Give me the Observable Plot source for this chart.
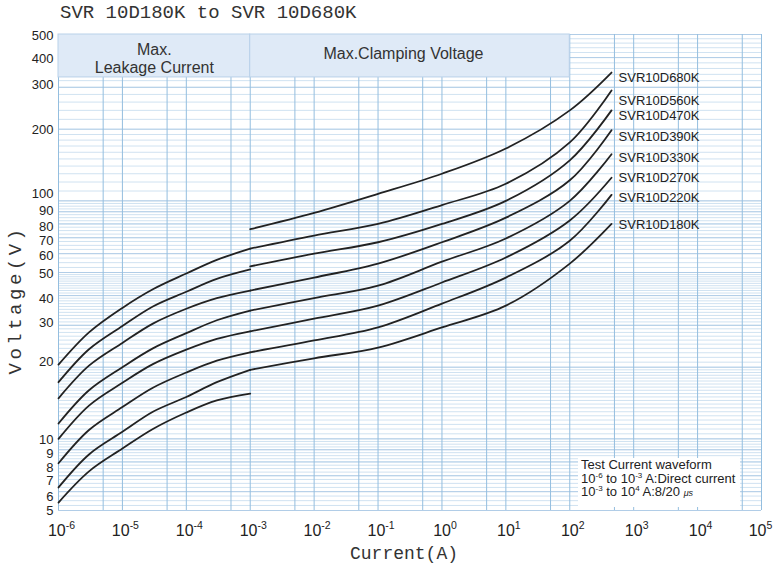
<!DOCTYPE html>
<html>
<head>
<meta charset="utf-8">
<script src="https://cdn.jsdelivr.net/npm/d3@7"></script>
<script src="https://cdn.jsdelivr.net/npm/@observablehq/plot@0.6"></script>
<style>
  body { margin: 0; background: #fff; }
  #wrap { position: relative; width: 773px; height: 570px; overflow: hidden; }
  .mono { position: absolute; font-family: "Liberation Mono", "DejaVu Sans Mono", monospace; color: #333; white-space: nowrap; }
  #title { left: 60px; top: 2px; font-size: 19px; line-height: 22px; }
  #xlabel { left: 350px; top: 544px; font-size: 18px; line-height: 20px; }
  #ylabel { left: 16px; top: 300px; font-size: 19px; letter-spacing: 3.5px; transform: translate(-50%, -50%) rotate(-90deg); }
  #note { position: absolute; left: 578px; top: 458px; width: 162px; height: 49px; background: #fff;
          font-family: "Liberation Sans", Arial, sans-serif; font-size: 13px; line-height: 13.5px; color: #222; padding-left: 3px; box-sizing: border-box; white-space: nowrap; }
  #note sup { font-size: 8px; vertical-align: 5px; line-height: 0; }
  #note small { font-size: 9px; font-style: italic; }
</style>
</head>
<body>
<div id="wrap">
  <div id="chart"></div>
  <div id="title" class="mono">SVR 10D180K to SVR 10D680K</div>
  <div id="ylabel" class="mono">Voltage(V)</div>
  <div id="xlabel" class="mono">Current(A)</div>
  <div id="note">Test Current waveform<br>10<sup>-6</sup> to 10<sup>-3</sup> A:Direct current<br>10<sup>-3</sup> to 10<sup>4</sup> A:8/20 <small>μs</small></div>
</div>
<script>
// ---- data ----
const models = ["SVR10D680K","SVR10D560K","SVR10D470K","SVR10D390K","SVR10D330K","SVR10D270K","SVR10D220K","SVR10D180K"];

// Max. leakage current region (1e-6 .. 1e-3 A)
const leakageCurrent = [1e-6, 3e-6, 1e-5, 3e-5, 1e-4, 3e-4, 1e-3];
const leakage680 = [20.5, 28, 35.5, 42.5, 49.5, 56.5, 63];
const leakage560 = [17.3, 23.8, 29.8, 36, 41.5, 47, 51.5];
const leakage470 = [14.8, 20.3, 25.3, 30.5, 35.2, 39, 42];
const leakage390 = [11.6, 16, 20, 24, 27.8, 31.5, 34.6];
const leakage330 = [10, 13.8, 17.2, 20.6, 23.7, 26.3, 28.3];
const leakage270 = [7.9, 10.9, 13.6, 16.4, 19, 21.3, 23.1];
const leakage220 = [6.25, 8.6, 10.7, 13, 15, 17.3, 19.5];
const leakage180 = [5.4, 7.3, 9.1, 11, 12.9, 14.5, 15.5];

// Max. clamping voltage region (1e-3 .. ~450 A)
const clampCurrent = [1e-3, 1e-2, 1e-1, 1, 10, 100, 450];
const clamp680 = [76, 89, 107, 130, 166, 240, 346];
const clamp560 = [63, 71.5, 80, 96, 118, 176, 291];
const clamp470 = [53, 60, 67, 80, 100, 148, 240];
const clamp390 = [42, 47.6, 54.5, 67, 85, 122, 198];
const clamp330 = [34.6, 39, 44, 55.5, 69.5, 100, 157];
const clamp270 = [28.3, 32, 36.3, 45.4, 57.8, 82.7, 125];
const clamp220 = [23.1, 25.9, 29.4, 37, 47.6, 68, 106];
const clamp180 = [19.5, 21.8, 24.2, 29.4, 36.3, 54.5, 80];

// curve labels
const labelCurrent = 580;
const labelVoltage = [330, 264, 228, 185, 152, 125, 103, 79];

// tick labels
const xTicks = [1e-6, 1e-5, 1e-4, 1e-3, 1e-2, 1e-1, 1, 10, 100, 1e3, 1e4, 1e5];
const xTickExponents = ["-6", "-5", "-4", "-3", "-2", "-1", "0", "1", "2", "3", "4", "5"];
const yTicks = [5, 6, 7, 8, 9, 10, 20, 30, 40, 50, 60, 70, 80, 90, 100, 200, 300, 400, 500];

// header bands
const bandNames = ["Max.\nLeakage Current", "Max.Clamping Voltage"];
const bandStart = [1e-6, 1e-3];
const bandEnd = [1e-3, 1e2];
const bandLow = 330, bandHigh = 500;
const bandTextCurrent = [3.16e-5, 0.25];
const bandTextVoltage = [396, 418];

// ---- style: label nudges (px) as printed in the original sheet ----
const yLabelNudge = {5: 0, 6: 5, 7: 5, 8: 6, 9: 4, 10: 1, 20: -5, 30: -2, 40: 3, 50: 1, 60: 2, 70: 3, 80: 3, 90: -1, 100: -7, 200: 1, 300: -2, 400: 1, 500: 1};

// ---- build tables ----
const leakSeries = [leakage680, leakage560, leakage470, leakage390, leakage330, leakage270, leakage220, leakage180];
const clampSeries = [clamp680, clamp560, clamp470, clamp390, clamp330, clamp270, clamp220, clamp180];
const rows = [];
models.forEach((m, i) => {
  leakageCurrent.forEach((c, j) => rows.push({key: m + "-leak", current: c, voltage: leakSeries[i][j]}));
  clampCurrent.forEach((c, j) => rows.push({key: m + "-clamp", current: c, voltage: clampSeries[i][j]}));
});
const labels = models.map((m, i) => ({text: m, current: labelCurrent, voltage: labelVoltage[i]}));
const bands = bandNames.map((t, i) => ({text: t, x1: bandStart[i], x2: bandEnd[i], y1: bandLow, y2: bandHigh, tx: bandTextCurrent[i], ty: bandTextVoltage[i]}));
const xLabelRows = xTicks.map((v, i) => ({value: v, text: "10^" + xTickExponents[i], shift: i === xTicks.length - 1 ? -1 : 3}));

// grid lines (log paper)
const hGrid = [].concat(
  d3.range(5, 10, 0.25), d3.range(10, 20, 0.5), d3.range(20, 50, 1),
  d3.range(50, 100, 2.5), d3.range(100, 200, 10), d3.range(200, 501, 20)
);
const vGrid = [];
for (let k = -6; k <= 4; k++) { vGrid.push(Math.pow(10, k)); vGrid.push(5 * Math.pow(10, k)); }
vGrid.push(1e5);

const chart = Plot.plot({
  width: 773, height: 570,
  marginLeft: 58, marginRight: 12, marginTop: 34, marginBottom: 60,
  style: {fontFamily: "'Liberation Sans', Arial, sans-serif", background: "white", color: "#222"},
  x: {type: "log", domain: [1e-6, 1e5], label: null, axis: null},
  y: {type: "log", domain: [5, 500], label: null, axis: null},
  marks: [
    Plot.ruleY(hGrid, {stroke: "#c4daee", strokeWidth: 0.8}),
    Plot.ruleY(yTicks, {stroke: "#aecbe5", strokeWidth: 0.9}),
    Plot.ruleX(vGrid, {stroke: "#94bedf", strokeWidth: 1}),
    Plot.rect(bands, {x1: "x1", x2: "x2", y1: "y1", y2: "y2", fill: "#dfeaf7", stroke: "#b9d1e9", strokeWidth: 1}),
    Plot.text(bands, {x: "tx", y: "ty", text: "text", fontSize: 16, lineHeight: 1.1, fill: "#333"}),
    Plot.line(rows, {x: "current", y: "voltage", z: "key", curve: "catmull-rom", stroke: "#222", strokeWidth: 1.8}),
    Plot.text(labels, {x: "current", y: "voltage", text: "text", textAnchor: "start", fontSize: 13, fill: "#222"}),
    // x tick labels
    Plot.text(xLabelRows, {x: "value", frameAnchor: "bottom", lineAnchor: "top", dy: 14, text: "text", fontSize: 16, fill: "#222"}),
    // y tick labels
    Plot.text(yTicks, {y: d => d, frameAnchor: "left", dx: -5, textAnchor: "end", text: d => String(d), fontSize: 13, fill: "#222", className: "ytick"})
  ]
});
document.getElementById("chart").appendChild(chart);

// superscript exponents on the x tick labels
const ns = "http://www.w3.org/2000/svg";
chart.querySelectorAll("text").forEach(t => {
  const m = t.textContent.match(/^10\^(-?\d+)$/);
  if (!m) return;
  const idx = xTickExponents.indexOf(m[1]);
  while (t.firstChild) t.removeChild(t.firstChild);
  const a = document.createElementNS(ns, "tspan");
  a.textContent = "10";
  const b = document.createElementNS(ns, "tspan");
  b.setAttribute("dy", "-7");
  b.setAttribute("font-size", "10.5");
  b.textContent = m[1];
  t.appendChild(a); t.appendChild(b);
  t.setAttribute("dx", String(xLabelRows[idx].shift));
});

// nudge y tick labels to where the original sheet printed them
chart.querySelectorAll(".ytick text").forEach(t => {
  const v = +t.textContent;
  const n = yLabelNudge[v] || 0;
  const tr = t.getAttribute("transform") || "";
  t.setAttribute("transform", (tr + " translate(0," + n + ")").trim());
});
</script>
</body>
</html>
